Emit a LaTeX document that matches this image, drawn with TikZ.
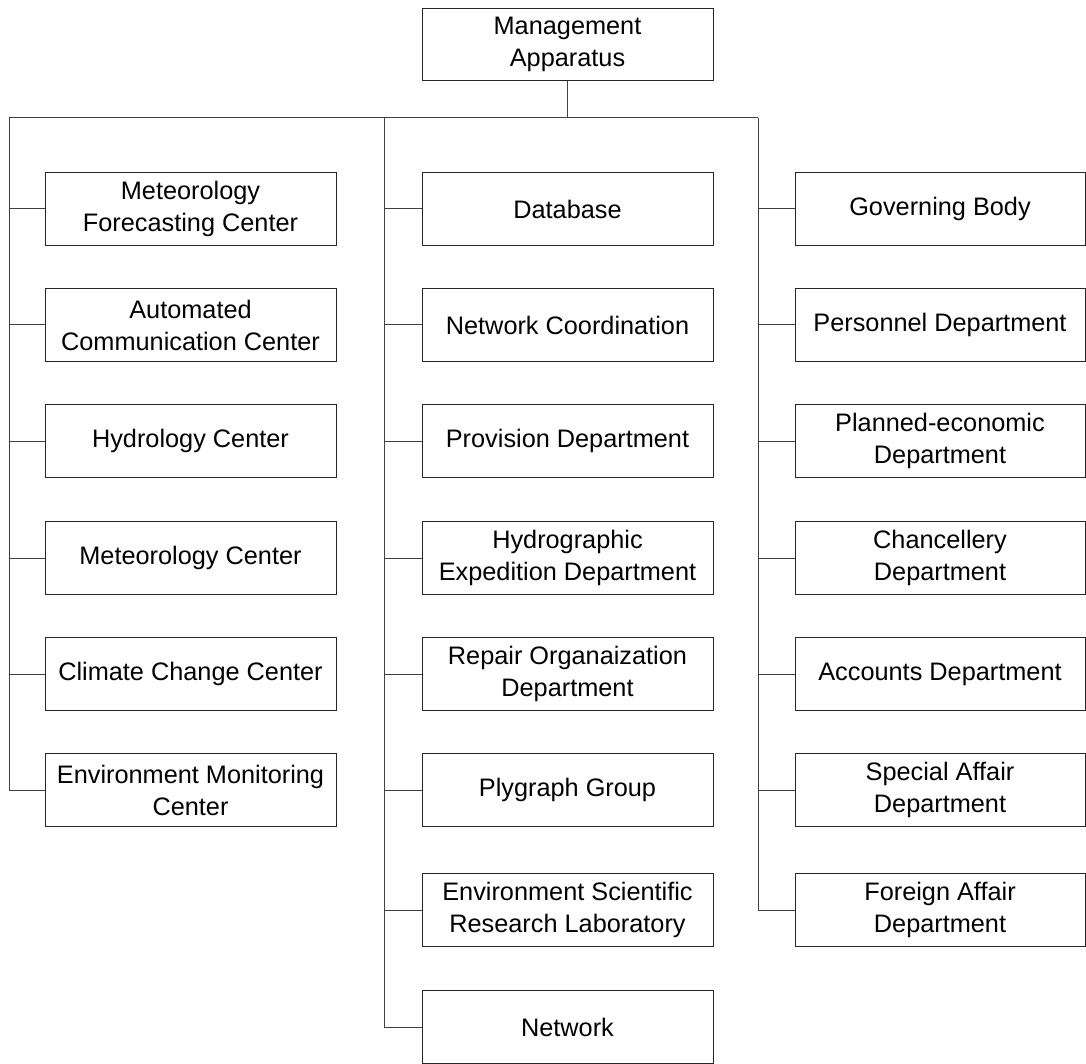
\documentclass[tikz,border=0pt]{standalone}
\usepackage{fontspec}
\setmainfont{Liberation Sans}
\begin{document}
\begin{tikzpicture}[x=1pt,y=-1pt,
  orgbox/.style={draw=black!85,line width=1pt,rectangle,minimum width=291pt,minimum height=72.5pt,inner sep=0pt,align=center,font=\fontsize{25.3}{32}\selectfont},
  rbox/.style={orgbox,minimum width=290pt},
  link/.style={draw=black!75,line width=1pt}]
\useasboundingbox (0,0) rectangle (1086,1064);
% top
\node[orgbox] (top) at (567.5,44.5) {Management\\Apparatus};
\coordinate (Ltop) at (9,118);
\coordinate (Mtop) at (384,118);
\coordinate (Rtop) at (758,118);
% left column
\node[orgbox] (l1) at (190.5,209) {Meteorology\\Forecasting Center};
\node[orgbox] (l2) at (190.5,325) {Automated\\Communication Center};
\node[orgbox] (l3) at (190.5,441) {Hydrology Center};
\node[orgbox] (l4) at (190.5,558) {Meteorology Center};
\node[orgbox] (l5) at (190.5,674) {Climate Change Center};
\node[orgbox] (l6) at (190.5,790) {Environment Monitoring\\Center};
% middle column
\node[orgbox] (m1) at (567.5,209) {Database};
\node[orgbox] (m2) at (567.5,325) {Network Coordination};
\node[orgbox] (m3) at (567.5,441) {Provision Department};
\node[orgbox] (m4) at (567.5,558) {Hydrographic\\Expedition Department};
\node[orgbox] (m5) at (567.5,674) {Repair Organaization\\Department};
\node[orgbox] (m6) at (567.5,790) {Plygraph Group};
\node[orgbox] (m7) at (567.5,910) {Environment Scientific\\Research Laboratory};
\node[orgbox] (m8) at (567.5,1027) {Network};
% right column
\node[rbox] (r1) at (940,209) {Governing Body};
\node[rbox] (r2) at (940,325) {Personnel Department};
\node[rbox] (r3) at (940,441) {Planned-economic\\Department};
\node[rbox] (r4) at (940,558) {Chancellery\\Department};
\node[rbox] (r5) at (940,674) {Accounts Department};
\node[rbox] (r6) at (940,790) {Special Affair\\Department};
\node[rbox] (r7) at (940,910) {Foreign Affair\\Department};
% connectors
\draw[link] (top.south) -- (top.south |- Ltop);
\draw[link] (Ltop) -- (Rtop);
\draw[link] (Ltop) -- (Ltop |- l6.west);
\draw[link] (Mtop) -- (Mtop |- m8.west);
\draw[link] (Rtop) -- (Rtop |- r7.west);
\foreach \n in {l1,l2,l3,l4,l5,l6} {\draw[link] (Ltop |- \n.west) -- (\n.west);}
\foreach \n in {m1,m2,m3,m4,m5,m6,m7,m8} {\draw[link] (Mtop |- \n.west) -- (\n.west);}
\foreach \n in {r1,r2,r3,r4,r5,r6,r7} {\draw[link] (Rtop |- \n.west) -- (\n.west);}
\end{tikzpicture}
\end{document}
